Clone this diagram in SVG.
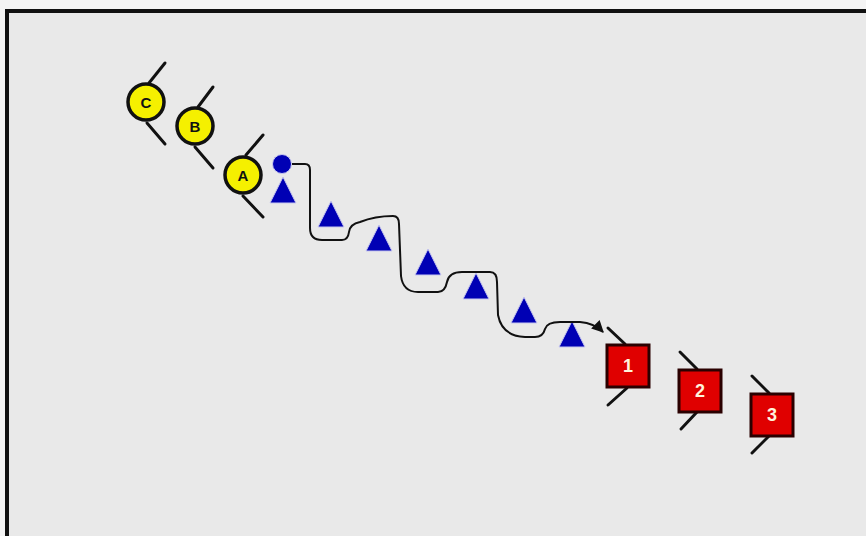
<svg xmlns="http://www.w3.org/2000/svg" width="866" height="536" viewBox="0 0 866 536">
<defs>
<style>
.stick{stroke:#111;stroke-width:3;stroke-linecap:round;fill:none}
.att circle{fill:#f5f000;stroke:#111;stroke-width:3.5}
.att text{font-family:"Liberation Sans",Arial,sans-serif;font-weight:bold;font-size:15px;fill:#111;text-anchor:middle}
.def rect{fill:#e00000;stroke:#2a0000;stroke-width:3}
.def text{font-family:"Liberation Sans",Arial,sans-serif;font-weight:bold;font-size:18px;fill:#fff4dc;text-anchor:middle}
.cone{fill:#0000b4;stroke:#c8c8f0;stroke-width:1}
</style>
<marker id="arr" viewBox="0 0 10 10" refX="9" refY="5" markerWidth="7" markerHeight="6" orient="auto" markerUnits="strokeWidth">
<path d="M0,0 L10,5 L0,10 z" fill="#111"/>
</marker>
</defs>
<rect x="0" y="0" width="866" height="536" fill="#f4f4f4"/>
<rect x="7" y="11" width="900" height="600" fill="#e9e9e9" stroke="#111" stroke-width="4"/>

<g id="attacker-C" class="att">
<line class="stick" x1="149" y1="83" x2="165" y2="63"/>
<line class="stick" x1="147" y1="123" x2="165" y2="144"/>
<circle cx="146" cy="102" r="18"/>
<text x="146" y="108">C</text>
</g>
<g id="attacker-B" class="att">
<line class="stick" x1="198" y1="107" x2="213" y2="87"/>
<line class="stick" x1="195" y1="147" x2="213" y2="168"/>
<circle cx="195" cy="126" r="18"/>
<text x="195" y="132">B</text>
</g>
<g id="attacker-A" class="att">
<line class="stick" x1="246" y1="155" x2="263" y2="135"/>
<line class="stick" x1="243" y1="196" x2="263" y2="217"/>
<circle cx="243" cy="175" r="18"/>
<text x="243" y="181">A</text>
</g>

<g id="ball">
<circle cx="282" cy="164" r="9.5" fill="#0000b4" stroke="#c8c8f0" stroke-width="1"/>
</g>

<g id="cones">
<polygon class="cone" points="283,177 296,203 270,203"/>
<polygon class="cone" points="331,201 344,227 318,227"/>
<polygon class="cone" points="379,225 392,251 366,251"/>
<polygon class="cone" points="428,249 441,275 415,275"/>
<polygon class="cone" points="476,273 489,299 463,299"/>
<polygon class="cone" points="524,297 537,323 511,323"/>
<polygon class="cone" points="572,321 585,347 559,347"/>
</g>

<g id="connectors">
<path d="M292,164 L305,164 Q310,164 310,170 L310,228 Q310,240 322,240 L342,240 Q348,240 349,232 Q350,224 360,222 Q375,216 393,216 Q399,216 399,224 L401,276 Q403,292 418,292 L438,292 Q445,292 447,282 Q449,272 462,272 L490,272 Q497,272 497,282 L498,315 Q502,336 525,337 L535,337 Q543,337 545,329 Q547,322 560,322 L580,322 Q594,323 603,332" fill="none" stroke="#111" stroke-width="2" marker-end="url(#arr)"/>
</g>

<g id="defender-1" class="def">
<line class="stick" x1="608" y1="328" x2="625" y2="344"/>
<line class="stick" x1="627" y1="388" x2="608" y2="405"/>
<rect x="607" y="345" width="42" height="42"/>
<text x="628" y="372">1</text>
</g>
<g id="defender-2" class="def">
<line class="stick" x1="680" y1="352" x2="697" y2="369"/>
<line class="stick" x1="697" y1="412" x2="681" y2="429"/>
<rect x="679" y="370" width="42" height="42"/>
<text x="700" y="397">2</text>
</g>
<g id="defender-3" class="def">
<line class="stick" x1="752" y1="376" x2="769" y2="393"/>
<line class="stick" x1="769" y1="436" x2="752" y2="453"/>
<rect x="751" y="394" width="42" height="42"/>
<text x="772" y="421">3</text>
</g>
</svg>
